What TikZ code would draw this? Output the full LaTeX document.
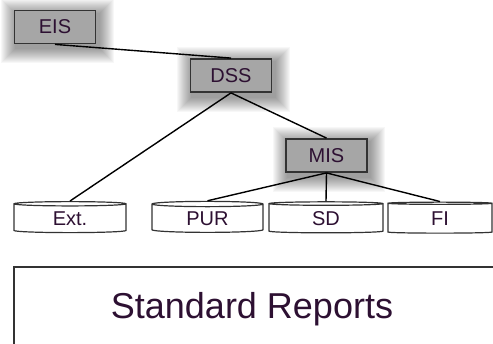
\documentclass[tikz,border=0pt]{standalone}
\usepackage{fontspec}
\setmainfont{Liberation Sans}
\usetikzlibrary{shapes.geometric}
\usetikzlibrary{backgrounds}

\definecolor{inkpurple}{RGB}{45,16,50}
\definecolor{boxgray}{RGB}{166,166,166}
\definecolor{rimgray}{RGB}{51,51,51}

\begin{document}
\begin{tikzpicture}[x=1pt, y=-1pt,
    level/.style={draw=rimgray, line width=1.8pt, fill=boxgray, text=inkpurple,
        font=\fontsize{20}{24}\selectfont, minimum width=81pt, minimum height=33pt, inner sep=0pt},
    disk/.style={cylinder, shape border rotate=90, aspect=0.125, draw=rimgray, line width=1.2pt,
        fill=white, text=inkpurple, font=\fontsize{20}{24}\selectfont,
        minimum height=31pt, inner sep=0pt},
    link/.style={line width=1.4pt}]

    \useasboundingbox (0,0) rectangle (493,344);
    \clip (0,0) rectangle (493,344);

    % the three levels
    \node [level] (eis) at (55, 27) {EIS};
    \node [level] (dss) at (231, 75.5) {DSS};
    \node [level] (mis) at (326.5, 155.5) {MIS};

    % soft glow under the levels
    \begin{pgfonlayer}{background}
        \foreach \n in {eis, dss, mis} {
            \foreach \k in {1,...,15} {
                \fill[black, opacity=0.032]
                    ([xshift={(2.5-\k)*1pt}, yshift={(\k-4)*1pt}]\n.north west) rectangle
                    ([xshift={(2.5+\k)*1pt}, yshift={(-4-\k)*1pt}]\n.south east);
            }
        }
    \end{pgfonlayer}

    % data sources
    \node [disk, minimum width=112pt] (ext) at (70, 218.5) {Ext.};
    \node [disk, minimum width=111pt] (pur) at (207.5, 218.5) {PUR};
    \node [disk, minimum width=114pt] (sd) at (326, 218.5) {SD};
    \node [disk, minimum width=104pt] (fi) at (440, 218.5) {\raisebox{-4pt}{FI}};

    \draw[link] (eis.south) -- (dss.north);
    \draw[link] (dss.south) -- (ext.north);
    \draw[link] (dss.south) -- (mis.north);
    \foreach \d in {pur, sd, fi}
        \draw[link] (mis.south) -- (\d.north);

    % report base
    \draw[rimgray, line width=2pt] (14, 267) rectangle (520, 370);
    \node [text=inkpurple, font=\fontsize{36}{42}\selectfont] (std) at (252, 309) {Standard Reports};

\end{tikzpicture}
\end{document}
